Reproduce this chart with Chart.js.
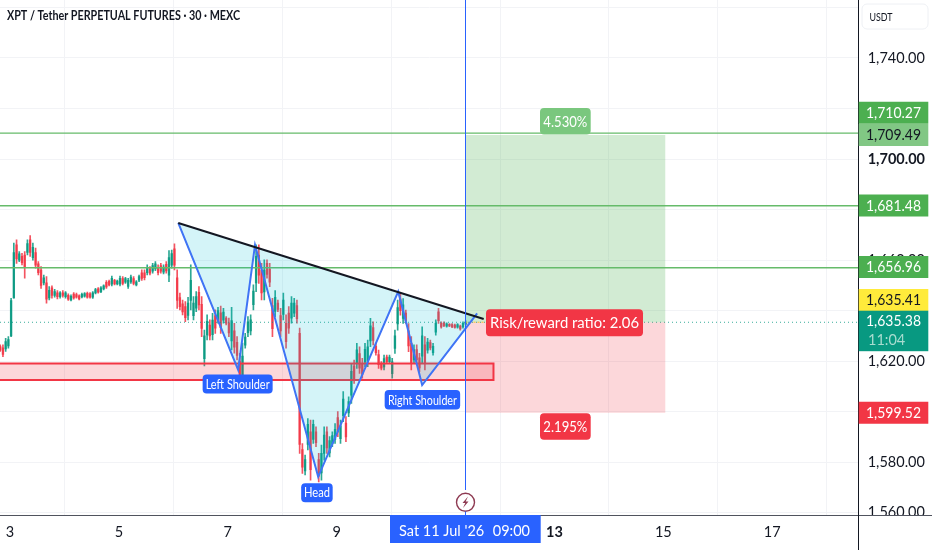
<!DOCTYPE html>
<html>
<head>
<meta charset="utf-8">
<style>html,body{margin:0;padding:0;background:#fff;overflow:hidden}canvas{display:block}</style>
<script src="https://cdn.jsdelivr.net/npm/chart.js@4"></script>
</head>
<body>
<canvas id="c" width="932" height="550"></canvas>
<script>
const candleDays=[2.82,2.87,2.92,2.97,3.02,3.07,3.12,3.17,3.22,3.27,3.32,3.37,3.42,3.47,3.52,3.57,3.62,3.67,3.72,3.77,3.82,3.87,3.92,3.97,4.02,4.07,4.12,4.17,4.22,4.27,4.32,4.37,4.42,4.47,4.52,4.57,4.62,4.67,4.72,4.77,4.82,4.87,4.92,4.97,5.02,5.07,5.12,5.17,5.22,5.27,5.32,5.37,5.42,5.47,5.52,5.57,5.62,5.67,5.72,5.77,5.82,5.87,5.92,5.97,6.02,6.07,6.12,6.17,6.22,6.27,6.32,6.37,6.42,6.47,6.52,6.57,6.62,6.67,6.72,6.77,6.82,6.87,6.92,6.97,7.02,7.07,7.12,7.17,7.22,7.27,7.32,7.37,7.42,7.47,7.52,7.57,7.62,7.67,7.72,7.77,7.82,7.87,7.92,7.97,8.02,8.07,8.12,8.17,8.22,8.27,8.32,8.37,8.42,8.47,8.52,8.57,8.62,8.67,8.72,8.77,8.82,8.87,8.92,8.97,9.02,9.07,9.12,9.17,9.22,9.27,9.32,9.37,9.42,9.47,9.52,9.57,9.62,9.67,9.72,9.77,9.82,9.87,9.92,9.97,10.02,10.07,10.12,10.17,10.22,10.27,10.32,10.37,10.42,10.47,10.52,10.57,10.62,10.67,10.72,10.77,10.82,10.87,10.92,10.97,11.02,11.07,11.12,11.17,11.22,11.27,11.32,11.37];
const highs=[1626.4,1626.4,1629,1629.7,1644.9,1666.7,1668,1663.4,1662.7,1663.4,1668,1669.7,1666.7,1664.7,1659.4,1657.4,1654.1,1653.5,1649.5,1649.8,1648.4,1647.9,1647.5,1647.9,1647.5,1646.6,1646.2,1647.1,1646.9,1646.2,1646.9,1647.1,1647.3,1647.1,1647.5,1648.8,1649.1,1649.5,1650.2,1651.9,1652.1,1653.7,1652.4,1652.1,1653.7,1653.5,1653.2,1652.8,1654.1,1653.5,1651.9,1654.1,1656.1,1656.1,1658.1,1657.4,1658.7,1659.4,1658.1,1658.7,1658.1,1659.4,1663.8,1664,1666.4,1656.1,1646.9,1644.2,1643.6,1645.3,1658.1,1645.5,1647.5,1649.5,1645.5,1632.3,1638.3,1636.3,1638.9,1640.3,1641.3,1641.8,1640.9,1637.6,1637,1641.3,1635,1629.7,1623.1,1627.1,1631,1637.6,1638.3,1650.2,1666,1666,1658.7,1660.1,1660.1,1658.7,1644.9,1647.9,1644.2,1640.9,1646.9,1638.3,1641.6,1645.5,1644.9,1644.2,1633.1,1587.4,1582.8,1597.3,1596.7,1596.7,1594,1583.5,1586.8,1594,1594,1590.1,1592,1595.3,1600,1596.7,1607.9,1598,1605.9,1619.1,1620.4,1627,1625.7,1621.1,1627,1628.3,1636.9,1635.6,1627,1624.4,1619.8,1622.4,1622.4,1622.4,1621.1,1632.3,1644.2,1646.8,1644.8,1640.2,1634.9,1629.7,1626.4,1626.4,1623.1,1633.6,1629.7,1629,1628.3,1627,1636.3,1640.9,1635.6,1635.6,1635.2,1634.9,1634.9,1634.7,1634.9,1634.3,1635.6,1635.9];
const lows=[1623.8,1621.8,1623.8,1625.1,1629.7,1644.9,1658.7,1659.4,1658.1,1652.8,1662,1661.4,1660,1656.8,1654.1,1648.8,1650.2,1642.9,1644.2,1644.9,1645.3,1644.6,1644.9,1645.3,1644.9,1644,1643.8,1644.5,1644.9,1644.2,1645,1645.3,1644.9,1644.9,1644.8,1646.6,1646.9,1647.1,1648.2,1648.8,1649.8,1649.8,1650.2,1650.2,1649.8,1650.2,1650.8,1648.8,1650.8,1650.2,1649.8,1651.5,1651.9,1652.1,1654.1,1654.1,1654.8,1655.8,1654.1,1654.8,1654.5,1654.8,1651.5,1656.8,1656.1,1640.9,1640.3,1638.3,1635.6,1636.3,1640.3,1636.3,1639.6,1640.3,1629.7,1618.1,1628.4,1628.4,1628.4,1631,1635,1631,1635,1634.3,1629.7,1624.4,1623.1,1620.5,1611.2,1609.2,1625.1,1629.7,1630.4,1640.3,1647.5,1650.8,1644.2,1644.2,1652.8,1649.5,1629.7,1637.6,1639.6,1629.7,1636.3,1625.1,1631,1635,1637.6,1635,1583.5,1575.5,1574.9,1584.8,1572.9,1587.4,1586.1,1572.2,1572.9,1580.8,1583.5,1582.1,1586.1,1587.4,1590.1,1587.4,1596,1588.1,1598,1603.3,1611.2,1617.1,1615.1,1613.2,1617.8,1617.8,1625.7,1626.4,1622.4,1617.1,1616.5,1616.5,1619.1,1619.1,1613.2,1623,1632.3,1638.2,1634.9,1634.9,1623.7,1616.5,1619.1,1619.1,1615.8,1619.1,1616.5,1623.1,1624.4,1622.4,1630.3,1634.9,1633,1633.6,1633.4,1633.6,1633.2,1633,1633,1632.3,1633,1634.3];
const opens=[1625.8,1625.3,1624.8,1626,1630,1645,1666,1660,1661.5,1662,1663,1668,1661,1663,1658.5,1656,1651,1651,1645,1649,1646,1647,1645.5,1647,1645.5,1646,1644.2,1646.5,1646.3,1645.8,1645.4,1645.7,1646.8,1646.6,1645.3,1647,1648.6,1647.5,1648.6,1651.2,1651.6,1650.5,1652,1650.6,1650.5,1652.7,1651.3,1649.6,1651.4,1652.7,1650.2,1652,1655,1655,1655,1656.6,1655.6,1656.5,1657,1657.8,1655.2,1658.3,1654,1658,1664.5,1653,1645.2,1642.7,1641.6,1638.1,1644,1638,1641,1647.2,1642.5,1621,1630.4,1634.3,1630.5,1638,1636.2,1639.1,1636.2,1637,1635.2,1628,1632,1627.4,1620,1612,1626.3,1631.3,1632,1642.3,1651,1662,1656,1647.4,1658.7,1656.4,1642,1639.7,1643,1638,1638.5,1635,1639,1637,1639,1642,1631,1585,1576.5,1587,1592,1589,1592,1581,1575.7,1583.5,1592,1583.7,1587.3,1589,1597.6,1589.3,1598.4,1595.5,1599.5,1606.5,1618,1619,1623,1619,1619.6,1620,1628,1633.3,1626,1622.6,1619,1617.7,1621.6,1619.8,1615,1625,1634.7,1644.7,1636.9,1639,1632,1627,1620.5,1624.6,1621.3,1622,1626.4,1624.3,1627.3,1623.3,1631.5,1639.5,1635,1635.1,1633.8,1634.6,1634.5,1634.3,1633.4,1633.9,1633.5,1634.6];
const closes=[1624.3,1622.7,1627.7,1628.5,1644,1663,1660.5,1662.5,1659,1657,1666.5,1663,1665,1658,1655,1650,1653,1644.5,1648,1646,1647.5,1645.5,1647,1646,1647,1644.5,1645.6,1645,1645.3,1644.6,1646.4,1646.7,1645.3,1645.3,1647,1648.3,1647.3,1649,1649.8,1649.4,1650.2,1652.8,1650.6,1651.7,1652.8,1650.8,1652.7,1652,1653.3,1650.8,1651.4,1653.5,1652.7,1653,1657,1654.8,1657.8,1658.5,1655,1655.6,1657.2,1655.7,1661,1662.6,1658,1644,1641.6,1639.5,1637.2,1643,1652,1643,1645.5,1642.2,1632.9,1630,1635.8,1630,1636.2,1633,1640,1633.2,1639.4,1635,1631.2,1636,1625.5,1622.3,1613.6,1622,1629.5,1635.6,1636.3,1647.7,1661.5,1654,1647,1656,1654.3,1651.3,1632.8,1645.3,1640.5,1632,1644.2,1627.7,1633,1643,1643,1636.8,1587,1578,1581,1595,1577,1595,1587.7,1574.5,1583.5,1590.7,1585.6,1588.5,1590.5,1593,1592,1594.4,1605,1590,1604,1616,1613,1624.5,1617.2,1614.8,1624.7,1625.7,1634,1628.2,1623.3,1618.6,1617.2,1621,1619.8,1621.6,1619.7,1630,1641.2,1640,1642.3,1636,1626,1619,1624.6,1620.5,1617.3,1630,1619,1627.5,1625.2,1625.9,1635,1636,1633.5,1634,1634.8,1633.9,1633.5,1633.3,1634.5,1632.7,1635,1635.38];
const xTickDays=[3,5,7,9,11,13,15,17];
const yTickPrices=[1560,1580,1600,1620,1640,1660,1680,1700,1720,1740,1760];
const yLabelledPrices=[1560,1580,1620,1660,1700,1740];
const targetLevels=[1710.27,1681.48,1656.96];
const lastPrice=1635.38, entryPrice=1635.41, targetPrice=1709.49, stopPrice=1599.52;
const patternDays=[6.09,7.19,7.5,8.66,10.13,10.57,11.58];
const patternPrices=[1674.7,1616.5,1666,1574.2,1647.5,1610.5,1638.9];
const necklineDays=[6.09,11.7];
const necklinePrices=[1674.7,1636.7];
const zoneDays=[2.816,11.88], zonePrices=[1619.1,1612.5];
const positionDays=[11.366,15.04];
const crosshairDay=11.366;
const viewDays=[2.816,18.588], viewPrices=[1559.08,1762.96];

const UP='#089981', DOWN='#f23645', BLUE='#2962ff', INK='#131722', FONT='Lato';
const UP_SOFT='rgba(8,153,129,.85)', DOWN_SOFT='rgba(242,54,69,.85)';
const isUp=i=>closes[i]>=opens[i];
const pts=(xs,ys)=>xs.map((x,i)=>({x,y:ys[i]}));
const flat=(xs,y)=>xs.map(x=>({x,y}));
const lineBase={type:'line',pointRadius:0,fill:false,tension:0};

const datasets=[
 {type:'bar',label:'wicks',order:30,data:candleDays.map((x,i)=>({x,y:[lows[i],highs[i]]})),barThickness:1,grouped:false,
  backgroundColor:c=>isUp(c.dataIndex)?UP_SOFT:DOWN_SOFT},
 {type:'bar',label:'bodies',order:29,data:candleDays.map((x,i)=>({x,y:[opens[i],closes[i]]})),barThickness:1.7,grouped:false,minBarLength:1,
  backgroundColor:c=>isUp(c.dataIndex)?UP_SOFT:DOWN_SOFT},
 {...lineBase,label:'last',order:28,data:flat(viewDays,lastPrice),borderColor:'rgba(8,153,129,.8)',borderWidth:1,borderDash:[1,3]},
 {...lineBase,label:'reward',order:25,data:flat(positionDays,targetPrice),borderWidth:0,fill:{value:entryPrice},backgroundColor:'rgba(76,175,80,.25)'},
 {...lineBase,label:'risk',order:25,data:flat(positionDays,stopPrice),borderWidth:0,fill:{value:entryPrice},backgroundColor:'rgba(242,54,69,.2)'},
 {...lineBase,label:'zone',order:24,data:flat(zoneDays,zonePrices[0]),borderWidth:0,fill:{value:zonePrices[1]},backgroundColor:'rgba(242,54,69,.2)'},
 {...lineBase,label:'zoneEdge',order:23,data:pts([zoneDays[0],zoneDays[1],zoneDays[1],zoneDays[0]],[zonePrices[0],zonePrices[0],zonePrices[1],zonePrices[1]]),borderColor:DOWN,borderWidth:2},
 ...targetLevels.map(v=>({...lineBase,label:'level',order:22,data:flat(viewDays,v),borderColor:'#66bb6a',borderWidth:1.4})),
 {...lineBase,label:'pattern',order:20,data:pts(patternDays,patternPrices),borderColor:'#3f74f5',borderWidth:2,
  fill:{target:11,above:'rgba(0,188,212,.17)',below:'rgba(0,188,212,.17)'}},
 {...lineBase,label:'neckline',order:19,data:pts(necklineDays,necklinePrices),borderColor:INK,borderWidth:2},
 {...lineBase,label:'crosshair',order:18,data:[{x:crosshairDay,y:viewPrices[1]},{x:crosshairDay,y:1569}],borderColor:BLUE,borderWidth:1},
 {...lineBase,label:'entry',order:21,data:flat([crosshairDay,11.7],entryPrice),borderColor:'#fbc02d',borderWidth:1,borderDash:[2,2]}
];

function tag(ctx,x,y,w,h,r,bg,text,fg,font,tw){
 ctx.fillStyle=bg;ctx.beginPath();ctx.roundRect(x,y,w,h,r);ctx.fill();
 if(text){ctx.fillStyle=fg;ctx.font=font;ctx.textAlign='center';ctx.textBaseline='middle';ctx.fillText(text,x+w/2,y+h/2+.5,tw);}
}
const noPad=s=>{s.paddingLeft=s.paddingRight=s.paddingTop=s.paddingBottom=0;};
const overlay={id:'overlay',afterDraw(chart){
 const ctx=chart.ctx,X=chart.scales.x,Y=chart.scales.y,a=chart.chartArea;
 const px=v=>X.getPixelForValue(v),py=v=>Y.getPixelForValue(v);
 ctx.save();
 ctx.fillStyle='#fff';ctx.fillRect(a.right,a.bottom,932-a.right,35);
 ctx.strokeStyle='#50535e';ctx.lineWidth=1;ctx.beginPath();ctx.moveTo(0,515.5);ctx.lineTo(932,515.5);ctx.stroke();
 ctx.strokeStyle=INK;ctx.beginPath();ctx.moveTo(858.5,0);ctx.lineTo(858.5,550);ctx.stroke();
 ctx.fillStyle=INK;ctx.font='700 13.5px '+FONT;ctx.textAlign='left';ctx.textBaseline='middle';
 ctx.fillText('XPT / Tether PERPETUAL FUTURES · 30 · MEXC',7,16,233);
 ctx.strokeStyle='#eef0f4';ctx.lineWidth=1;ctx.beginPath();ctx.roundRect(862,4,66,25,5);ctx.stroke();
 ctx.fillStyle=INK;ctx.font='12px '+FONT;ctx.fillText('USDT',869.5,17,23);
 const f='14.5px '+FONT,tx=858.7,tw=69.6;
 [[1710.27,-20.4,'#4caf50','#fff'],[1709.49,0,'#81c784',INK],[1681.48,-.4,'#4caf50','#fff'],[1656.96,-.8,'#4caf50','#fff'],[1635.41,-22.2,'#ffeb3b',INK],[1599.52,0,DOWN,'#fff']]
 .forEach(([v,s,bg,fg])=>tag(ctx,tx,py(v)+s-11,tw,22,0,bg,v.toLocaleString('en-US',{minimumFractionDigits:2}),fg,f,55));
 ctx.fillStyle=UP;ctx.fillRect(tx,310.7,tw,40.5);
 ctx.textAlign='center';ctx.textBaseline='middle';ctx.font=f;ctx.fillStyle='#fff';
 ctx.fillText('1,635.38',tx+tw/2,321.5,55);
 ctx.fillStyle='#a8dccf';ctx.textAlign='left';ctx.fillText('11:04',868,340);
 const s='13px '+FONT,b='15.5px '+FONT;
 tag(ctx,px(7.19)-35.5,py(1616.5)+4.5,70,19,4,BLUE,'Left Shoulder','#fff',s,64);
 tag(ctx,px(10.57)-37.5,py(1610.5)+5,75.5,19.5,4,BLUE,'Right Shoulder','#fff',s,69);
 tag(ctx,px(8.66)-17,py(1574.2)+6.5,31.5,19,4,BLUE,'Head','#fff',s,26);
 tag(ctx,540,py(targetPrice)-27,50.7,26.5,4,'#7ac77e','4.530%','#fff',b,44);
 tag(ctx,540,py(stopPrice)+.5,50.7,26.5,4,DOWN,'2.195%','#fff',b,44);
 tag(ctx,486,py(entryPrice)-13,157,27,4,DOWN,'Risk/reward ratio: 2.06','#fff',b,149);
 const ex=px(crosshairDay);
 ctx.fillStyle='#fff';ctx.strokeStyle='#8e3a52';ctx.lineWidth=1.4;ctx.beginPath();ctx.arc(ex,502.3,9,0,7);ctx.fill();ctx.stroke();
 ctx.fillStyle='#8e3a52';ctx.beginPath();ctx.moveTo(ex+2.5,496.5);ctx.lineTo(ex-3,503);ctx.lineTo(ex-.2,503);ctx.lineTo(ex-2.5,508);ctx.lineTo(ex+3,501.5);ctx.lineTo(ex+.2,501.5);ctx.closePath();ctx.fill();
 ctx.strokeStyle=BLUE;ctx.lineWidth=1;ctx.beginPath();ctx.moveTo(ex,511.5);ctx.lineTo(ex,515);ctx.stroke();
 ctx.fillStyle=BLUE;ctx.fillRect(390,515,150.7,28);
 ctx.fillStyle='#fff';ctx.font='14.5px '+FONT;ctx.textAlign='left';ctx.textBaseline='middle';
 ctx.fillText("Sat 11 Jul '26",399,531.5);ctx.textAlign='right';ctx.fillText('09:00',530,531.5);
 ctx.restore();
}};

new Chart(document.getElementById('c'),{
 data:{datasets},
 plugins:[overlay],
 options:{
  responsive:false,animation:false,devicePixelRatio:1,
  layout:{padding:0},
  plugins:{legend:{display:false},tooltip:{enabled:false},title:{display:false}},
  events:[],
  scales:{
   x:{type:'linear',offset:false,min:viewDays[0],max:viewDays[1],
    afterBuildTicks:s=>{s.ticks=xTickDays.map(value=>({value}));},
    afterFit:s=>{s.height=35;noPad(s);},
    border:{display:false},
    grid:{color:'#f2f3f6',drawTicks:false},
    ticks:{autoSkip:false,maxRotation:0,padding:9,color:INK,
     font:c=>({family:FONT,size:14.5,weight:c.tick&&c.tick.value===13?'700':'400'}),
     callback:v=>String(v)}},
   y:{type:'linear',position:'right',min:viewPrices[0],max:viewPrices[1],
    afterBuildTicks:s=>{s.ticks=yTickPrices.map(value=>({value}));},
    afterFit:s=>{s.width=73.3;noPad(s);},
    border:{display:false},
    grid:{color:'#f2f3f6',drawTicks:false},
    ticks:{autoSkip:false,padding:9,color:INK,
     font:c=>({family:FONT,size:14.5,weight:c.tick&&c.tick.value===1700?'700':'400'}),
     callback:v=>yLabelledPrices.includes(v)?v.toLocaleString('en-US',{minimumFractionDigits:2}):''}}
  }
 }
});
</script>
</body>
</html>
